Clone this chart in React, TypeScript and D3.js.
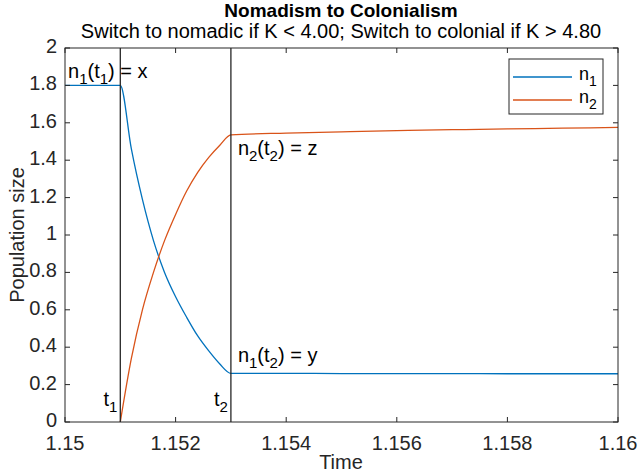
import React from 'react';
import * as d3 from 'd3';

// time points and population values
const phase1Time = [1.15, 1.151];
const phase1N1 = [1.8, 1.8];

const switchTime = [1.151, 1.1512, 1.1514, 1.1516, 1.1518, 1.152, 1.1522, 1.1524, 1.1526, 1.1528, 1.153];
const switchN1 = [1.8, 1.46, 1.19, 0.97, 0.8, 0.67, 0.56, 0.46, 0.38, 0.31, 0.26];
const switchN2 = [0, 0.34, 0.6, 0.8, 0.97, 1.11, 1.235, 1.335, 1.415, 1.48, 1.535];

const phase2Time = [1.153, 1.154, 1.155, 1.156, 1.157, 1.158, 1.159, 1.16];
const phase2N1 = [0.26, 0.26, 0.259, 0.259, 0.259, 0.258, 0.258, 0.258];
const phase2N2 = [1.535, 1.545, 1.552, 1.558, 1.563, 1.567, 1.571, 1.575];

const markerTimes = [1.151, 1.153];
const xTicks = [1.15, 1.152, 1.154, 1.156, 1.158, 1.16];
const yTicks = [0, 0.2, 0.4, 0.6, 0.8, 1, 1.2, 1.4, 1.6, 1.8, 2];

const W = 639
const H = 472
const margin = { top: 48, right: 21, bottom: 50, left: 65 }
const font = '"Liberation Sans", Arial, Helvetica, sans-serif'
const axisColor = '#262626'
const blue = '#0072BD'
const orange = '#D95319'
const fs = 20

export default function App() {
  const x = d3.scaleLinear().domain([1.15, 1.16]).range([margin.left, W - margin.right])
  const y = d3.scaleLinear().domain([0, 2]).range([H - margin.bottom, margin.top])

  const n1 = [
    ...phase1Time.map((t, i) => [t, phase1N1[i]] as [number, number]),
    ...switchTime.slice(1).map((t, i) => [t, switchN1[i + 1]] as [number, number]),
    ...phase2Time.slice(1).map((t, i) => [t, phase2N1[i + 1]] as [number, number]),
  ]
  const n2 = [
    ...switchTime.map((t, i) => [t, switchN2[i]] as [number, number]),
    ...phase2Time.slice(1).map((t, i) => [t, phase2N2[i + 1]] as [number, number]),
  ]
  const curve = d3.line<[number, number]>().curve(d3.curveMonotoneX).x(d => x(d[0])).y(d => y(d[1]))

  const x0 = x.range()[0], x1 = x.range()[1]
  const yb = y.range()[0], yt = y.range()[1]
  const tick = 5
  const fmt = (v: number) => String(+v.toFixed(3))

  // subscript followed by a baseline reset
  const sub = (s: string, size = 15) => <tspan dy={6} fontSize={size}>{s}</tspan>

  return (
    <svg width={W} height={H} style={{ position: 'absolute', left: 0, top: 0, background: '#fff' }} fontFamily={font}>
      <rect width={W} height={H} fill="#fff" />
      <text x={341} y={17} textAnchor="middle" fontWeight="bold" fontSize={19} fill="#000">Nomadism to Colonialism</text>
      <text x={341} y={38} textAnchor="middle" fontSize={fs} fill="#000">Switch to nomadic if K &lt; 4.00; Switch to colonial if K &gt; 4.80</text>

      <path d={curve(n1) || ''} fill="none" stroke={blue} strokeWidth={1.3} />
      <path d={curve(n2) || ''} fill="none" stroke={orange} strokeWidth={1.3} />

      {markerTimes.map(t => (
        <line key={t} x1={x(t)} x2={x(t)} y1={yt} y2={yb} stroke={axisColor} strokeWidth={1.3} />
      ))}

      <rect x={x0} y={yt} width={x1 - x0} height={yb - yt} fill="none" stroke={axisColor} strokeWidth={1} />
      {xTicks.map(t => (
        <g key={t}>
          <line x1={x(t)} x2={x(t)} y1={yb} y2={yb - tick} stroke={axisColor} />
          <line x1={x(t)} x2={x(t)} y1={yt} y2={yt + tick} stroke={axisColor} />
          <text x={x(t)} y={450} textAnchor="middle" fontSize={fs} fill={axisColor}>{fmt(t)}</text>
        </g>
      ))}
      {yTicks.map(t => (
        <g key={t}>
          <line x1={x0} x2={x0 + tick} y1={y(t)} y2={y(t)} stroke={axisColor} />
          <line x1={x1} x2={x1 - tick} y1={y(t)} y2={y(t)} stroke={axisColor} />
          <text x={x0 - 8} y={y(t) + 5} textAnchor="end" fontSize={fs} fill={axisColor}>{fmt(t)}</text>
        </g>
      ))}
      <text x={341} y={469} textAnchor="middle" fontSize={fs} fill={axisColor}>Time</text>
      <text transform={`translate(24,${(yt + yb) / 2}) rotate(-90)`} textAnchor="middle" fontSize={fs} fill={axisColor}>Population size</text>

      {/* annotations */}
      <text x={x0 + 3} y={78} fontSize={fs} fill="#000">n{sub('1')}<tspan dy={-6}>(t</tspan>{sub('1')}<tspan dy={-6}>) = x</tspan></text>
      <text x={x(1.153) + 7} y={155} fontSize={fs} fill="#000">n{sub('2')}<tspan dy={-6}>(t</tspan>{sub('2')}<tspan dy={-6}>) = z</tspan></text>
      <text x={x(1.153) + 7} y={362} fontSize={fs} fill="#000">n{sub('1')}<tspan dy={-6}>(t</tspan>{sub('2')}<tspan dy={-6}>) = y</tspan></text>
      <text x={x(1.151) - 3} y={406} textAnchor="end" fontSize={fs} fill="#000">t{sub('1')}</text>
      <text x={x(1.153) - 3} y={406} textAnchor="end" fontSize={fs} fill="#000">t{sub('2')}</text>

      {/* legend */}
      <g>
        <rect x={509} y={59} width={94} height={55} fill="#fff" stroke={axisColor} strokeWidth={1} />
        <line x1={513} x2={572} y1={77} y2={77} stroke={blue} strokeWidth={1.3} />
        <line x1={513} x2={572} y1={100} y2={100} stroke={orange} strokeWidth={1.3} />
        <text x={579} y={80} fontSize={18} fill="#000">n{sub('1', 14)}</text>
        <text x={579} y={103} fontSize={18} fill="#000">n{sub('2', 14)}</text>
      </g>
    </svg>
  )
}
